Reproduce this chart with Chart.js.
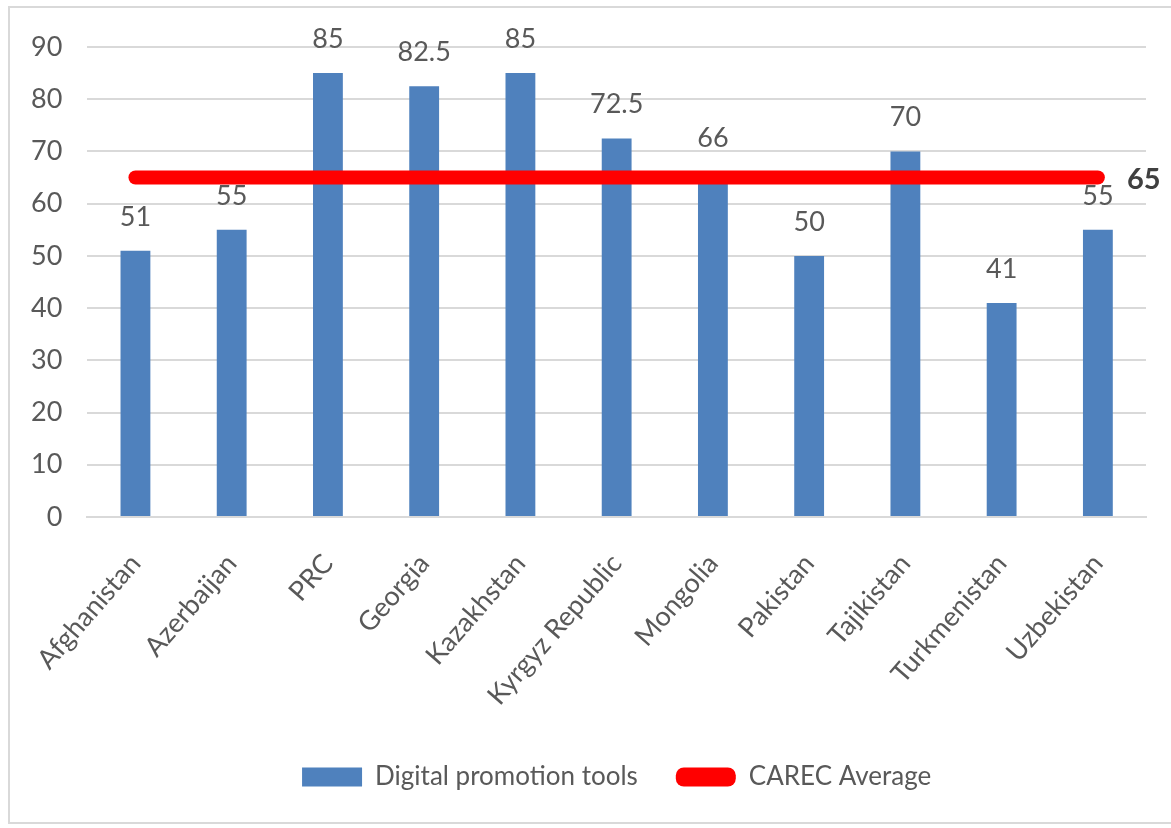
<!DOCTYPE html>
<html>
<head>
<meta charset="utf-8">
<script src="https://cdn.jsdelivr.net/npm/chart.js@4"></script>
<style>
  html, body { margin: 0; padding: 0; background: #fff; }
  #frame { position: absolute; left: 8px; top: 6px; width: 1170px; height: 818px; border: 2px solid #d9d9d9; box-sizing: border-box; }
  #wrap { position: absolute; left: 0; top: 0; width: 1171px; height: 828px; }
</style>
</head>
<body>
<div id="frame"></div>
<div id="wrap"><canvas id="c" width="1171" height="828"></canvas></div>
<script>
const categories = ["Afghanistan", "Azerbaijan", "PRC", "Georgia", "Kazakhstan", "Kyrgyz Republic", "Mongolia", "Pakistan", "Tajikistan", "Turkmenistan", "Uzbekistan"];
const digitalPromotionTools = [51, 55, 85, 82.5, 85, 72.5, 66, 50, 70, 41, 55];
const carecAverage = [65, 65, 65, 65, 65, 65, 65, 65, 65, 65, 65];
const yTicks = [0, 10, 20, 30, 40, 50, 60, 70, 80, 90];

const FONT = "Lato, 'Open Sans', sans-serif";
const TEXT = "#595959";

const labelPlugin = {
  id: 'valueLabels',
  afterDatasetsDraw(chart) {
    const ctx = chart.ctx;
    const meta = chart.getDatasetMeta(0);
    ctx.save();
    ctx.font = "27px " + FONT;
    ctx.fillStyle = TEXT;
    ctx.textAlign = 'center';
    ctx.textBaseline = 'alphabetic';
    meta.data.forEach((bar, i) => {
      ctx.fillText(String(digitalPromotionTools[i]), bar.x, bar.y - 25);
    });
    const lineMeta = chart.getDatasetMeta(1);
    const last = lineMeta.data[lineMeta.data.length - 1];
    ctx.font = "bold 29px " + FONT;
    ctx.fillStyle = "#404040";
    ctx.textAlign = 'left';
    ctx.textBaseline = 'middle';
    ctx.fillText(String(carecAverage[carecAverage.length - 1]), last.x + 29, last.y + 2);
    ctx.restore();
  }
};

new Chart(document.getElementById('c'), {
  data: {
    labels: categories,
    datasets: [
      {
        type: 'bar',
        label: 'Digital promotion tools',
        data: digitalPromotionTools,
        backgroundColor: '#4f81bd',
        categoryPercentage: 1.0,
        barPercentage: 0.31,
        order: 2
      },
      {
        type: 'line',
        label: 'CAREC Average',
        data: carecAverage,
        borderColor: '#ff0000',
        backgroundColor: '#ff0000',
        borderWidth: 14,
        borderCapStyle: 'round',
        pointRadius: 0,
        pointHoverRadius: 0,
        fill: false,
        order: 1
      }
    ]
  },
  options: {
    responsive: false,
    animation: false,
    layout: { padding: { left: 6, right: 25, top: 47, bottom: 28 } },
    plugins: {
      tooltip: { enabled: false },
      legend: {
        position: 'bottom',
        fullSize: false,
        labels: {
          font: { family: FONT, size: 26 },
          color: TEXT,
          boxWidth: 60,
          boxHeight: 19,
          padding: 38,
          useBorderRadius: true,
          generateLabels(chart) {
            return chart.data.datasets.map((ds, i) => ({
              text: ds.label,
              fillStyle: ds.type === 'line' ? '#ff0000' : '#4f81bd',
              strokeStyle: ds.type === 'line' ? '#ff0000' : '#4f81bd',
              lineWidth: 0,
              borderRadius: ds.type === 'line' ? 8 : 0,
              fontColor: TEXT,
              datasetIndex: i
            }));
          }
        }
      }
    },
    scales: {
      x: {
        grid: { display: false, drawTicks: false },
        border: { display: true, color: '#d9d9d9', width: 2 },
        afterFit(axis) { axis.paddingLeft = 0; axis.paddingRight = 0; axis.height = 209; },
        ticks: {
          font: { family: FONT, size: 27 },
          color: TEXT,
          minRotation: 49,
          maxRotation: 49,
          padding: 31
        }
      },
      y: {
        min: 0,
        max: 90,
        afterBuildTicks(axis) { axis.ticks = yTicks.map(v => ({ value: v })); },
        grid: { color: '#d9d9d9', lineWidth: 2, drawTicks: false },
        border: { display: false },
        ticks: {
          font: { family: FONT, size: 27 },
          color: TEXT,
          padding: 25
        }
      }
    }
  },
  plugins: [labelPlugin]
});
</script>
</body>
</html>
